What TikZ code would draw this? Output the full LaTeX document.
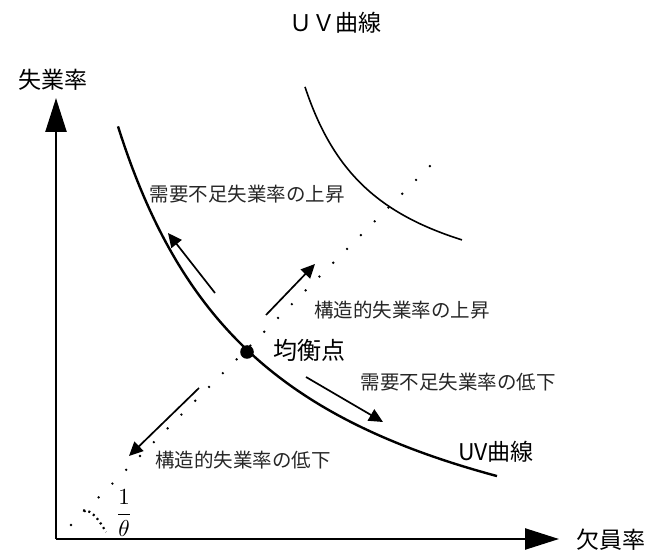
\documentclass[tikz,border=0pt]{standalone}
\usepackage{fontspec}
\setmainfont{Noto Sans CJK JP}
\usetikzlibrary{arrows.meta}
\tikzset{
  axis/.style={line width=2.4pt,-{Triangle[length=34pt,width=21pt]}},
  move/.style={line width=1.7pt,-{Triangle[length=14pt,width=13pt]}},
  lbl/.style={font=\fontsize{19.5}{22}\selectfont,inner sep=0pt,text=black!85},
  big/.style={font=\fontsize{23}{26}\selectfont,inner sep=0pt},
}
\begin{document}
\begin{tikzpicture}[x=1pt,y=-1pt]
\useasboundingbox (0,0) rectangle (651,553);
% title
\node[big] (title) at (335,23) {ＵＶ曲線};
% axes
\coordinate (O) at (56,539);
\coordinate (Ytop) at (56,98);
\coordinate (Xend) at (559,539);
\draw[axis] (O) -- (Ytop);
\draw[axis] (O) -- (Xend);
\node[big] (ylab) at (53,80) {失業率};
\node[big] (xlab) at (611,540) {欠員率};
% dotted ray
\coordinate (d0) at (71,525);
\coordinate (d1) at (431,165);
\draw[line width=2.6pt,line cap=round,dash pattern=on 0pt off 19.52pt] (d0) -- (d1);
% angle arc
\draw[line width=2.2pt,dash pattern=on 2pt off 3.5pt] (83,510.5) .. controls (92,509.5) and (99,520) .. (106,532);
\node[inner sep=0pt,scale=2.3] (theta) at (124,513) {$\displaystyle\frac{1}{\theta}$};
% UV curves
\draw[line width=2.4pt] plot[domain=118:497,samples=120] (\x,{620-770/((\x+38)/100)});
\draw[line width=1.6pt] plot[domain=305:462,samples=100] (\x,{313-169.56/((\x-230)/100)});
% equilibrium
\fill (247,352) circle (6.8pt);
\node[big,font=\fontsize{24}{27}\selectfont] (eq) at (309,350) {均衡点};
\node[big] (uv) at (496,452) {UV曲線};
% arrows
\coordinate (a1s) at (215,293); \coordinate (a1e) at (168,233);
\coordinate (a2s) at (266,315); \coordinate (a2e) at (315,264);
\coordinate (a3s) at (306,377); \coordinate (a3e) at (383,422);
\coordinate (a4s) at (199,388); \coordinate (a4e) at (129,456);
\draw[move] (a1s) -- (a1e);
\draw[move] (a2s) -- (a2e);
\draw[move] (a3s) -- (a3e);
\draw[move] (a4s) -- (a4e);
\node[lbl] (l1) at (247,194) {需要不足失業率の上昇};
\node[lbl] (l2) at (402,310) {構造的失業率の上昇};
\node[lbl] (l3) at (458,382) {需要不足失業率の低下};
\node[lbl] (l4) at (243,460) {構造的失業率の低下};
\end{tikzpicture}
\end{document}
